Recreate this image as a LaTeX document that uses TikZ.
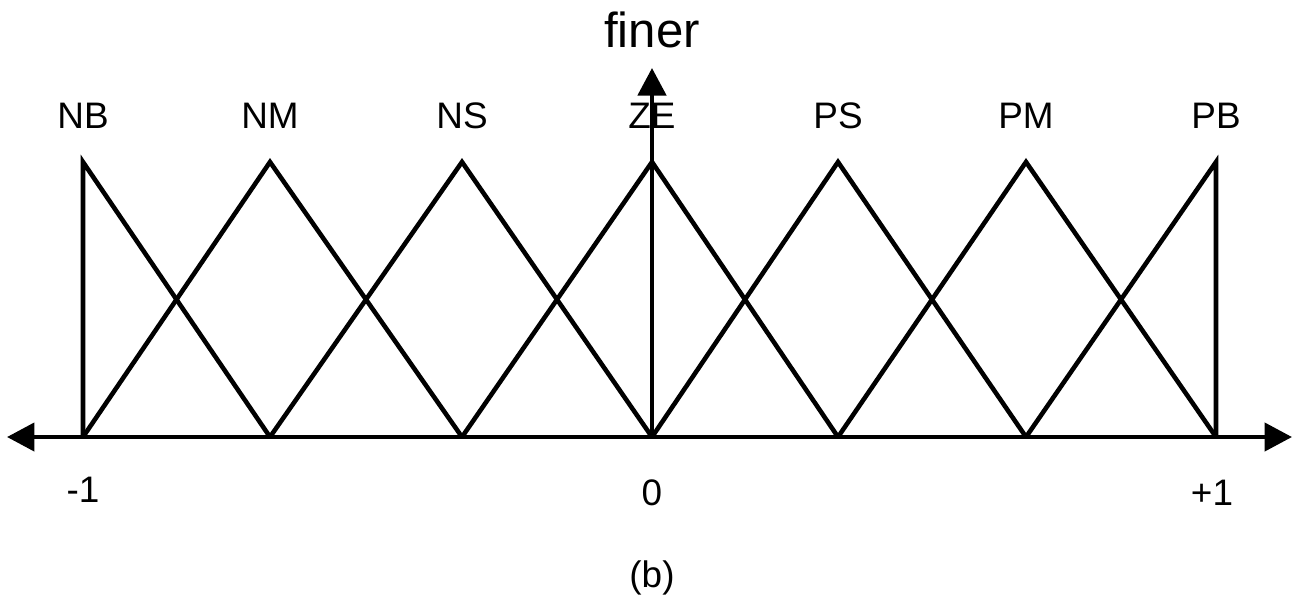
\documentclass[tikz,border=0pt]{standalone}
\usepackage{fontspec}
\setmainfont{Liberation Sans}
\usetikzlibrary{arrows.meta,positioning}

\begin{document}
\begin{tikzpicture}[x=0.02cm, y=-0.02cm,
axisline/.style={line width=2.6pt},
memberline/.style={line width=2.6pt, line join=miter},
setlabel/.style={font=\fontsize{21}{24}\selectfont, inner sep=2pt, text depth=0pt},
ticklabel/.style={font=\fontsize{21}{24}\selectfont},
]
\useasboundingbox (0,0) rectangle (1294,596);

% bases and peaks of the membership functions
\coordinate (bNB) at (83,437);   \coordinate (pNB) at (83,162);
\coordinate (bNM) at (270,437);  \coordinate (pNM) at (270,162);
\coordinate (bNS) at (462,437);  \coordinate (pNS) at (462,162);
\coordinate (bZE) at (652,437);  \coordinate (pZE) at (652,162);
\coordinate (bPS) at (838,437);  \coordinate (pPS) at (838,162);
\coordinate (bPM) at (1026,437); \coordinate (pPM) at (1026,162);
\coordinate (bPB) at (1216,437); \coordinate (pPB) at (1216,162);

\coordinate (AxisLeft)  at (7,437);
\coordinate (AxisRight) at (1292,437);
\coordinate (AxisTop)   at (652,68);

% axes
\draw[axisline, {Triangle[length=0.55cm, width=0.56cm]}-{Triangle[length=0.55cm, width=0.56cm]}] (AxisLeft) -- (AxisRight);
\draw[axisline, -{Triangle[length=0.55cm, width=0.56cm]}] (bZE) -- (AxisTop);

% membership functions
\draw[memberline] (bNB) -- (pNB) -- (bNM);
\draw[memberline] (bNB) -- (pNM) -- (bNS);
\draw[memberline] (bNM) -- (pNS) -- (bZE);
\draw[memberline] (bNS) -- (pZE) -- (bPS);
\draw[memberline] (bZE) -- (pPS) -- (bPM);
\draw[memberline] (bPS) -- (pPM) -- (bPB);
\draw[memberline] (bPM) -- (pPB) -- (bPB);

% labels
\node[setlabel] (NB) [above=0.6cm of pNB] {NB};
\node[setlabel] (NM) [above=0.6cm of pNM] {NM};
\node[setlabel] (NS) [above=0.6cm of pNS] {NS};
\node[setlabel] (ZE) [above=0.6cm of pZE] {ZE};
\node[setlabel] (PS) [above=0.6cm of pPS] {PS};
\node[setlabel] (PM) [above=0.6cm of pPM] {PM};
\node[setlabel] (PB) [above=0.6cm of pPB] {PB};

\node[font=\fontsize{28}{32}\selectfont] (Finer) at (652,30) {finer};

\node[ticklabel] (MinusOne) at (83,490)   {-1};
\node[ticklabel] (Zero)     at (652,493)  {0};
\node[ticklabel] (PlusOne)  at (1212,493) {+1};

\node[ticklabel] (Caption)  at (652,578)  {(b)};

\end{tikzpicture}
\end{document}
